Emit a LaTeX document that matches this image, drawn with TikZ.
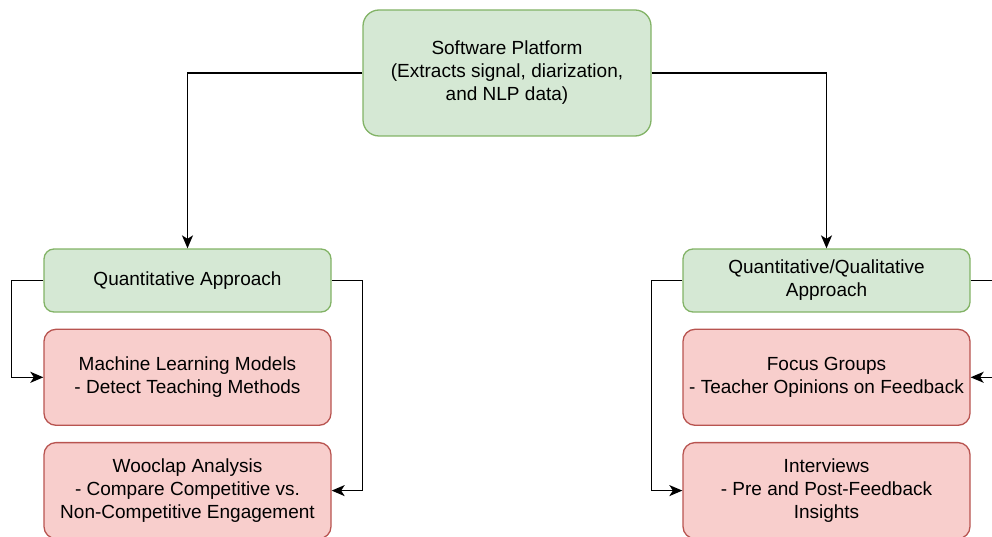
\documentclass[tikz,border=0pt]{standalone}
\usepackage{fontspec}
\setmainfont{Liberation Sans}
\usetikzlibrary{arrows.meta, positioning}

\definecolor{greenfill}{HTML}{D5E8D4}
\definecolor{greenline}{HTML}{82B366}
\definecolor{redfill}{HTML}{F8CECC}
\definecolor{redline}{HTML}{B85450}

\begin{document}
\begin{tikzpicture}[
    x=1pt, y=-1pt,
    font=\fontsize{19}{23}\selectfont,
    greenbox/.style={draw=greenline, fill=greenfill, line width=1.3pt, rounded corners=10pt, align=center, minimum width=287pt, minimum height=63pt, inner sep=0pt},
    redbox/.style={draw=redline, fill=redfill, line width=1.3pt, rounded corners=12pt, align=center, minimum width=287pt, minimum height=96pt, inner sep=0pt},
    arrow/.style={-{Stealth[length=13pt, width=11pt, inset=3.5pt]}, line width=1.5pt}
]
\useasboundingbox (0,0) rectangle (992,537);

\node[greenbox, minimum width=288pt, minimum height=126pt, rounded corners=16pt] (platform) at (507,73) {Software Platform\\(Extracts signal, diarization,\\and NLP data)};

\node[greenbox] (quant) at (187.5,280.5) {Quantitative Approach};
\node[redbox, below=16pt of quant] (ml) {Machine Learning Models\\- Detect Teaching Methods};
\node[redbox, below=16pt of ml] (wooclap) {Wooclap Analysis\\- Compare Competitive vs.\\Non-Competitive Engagement};

\node[greenbox] (qual) at (826.5,280.5) {Quantitative/Qualitative\\Approach};
\node[redbox, below=16pt of qual] (focus) {Focus Groups\\- Teacher Opinions on Feedback};
\node[redbox, below=16pt of focus] (interviews) {Interviews\\- Pre and Post-Feedback\\Insights};

\draw[arrow] (platform.west) -| (quant.north);
\draw[arrow] (platform.east) -| (qual.north);
\draw[arrow] (quant.west) -- ++(-32,0) |- (ml.west);
\draw[arrow] (quant.east) -- ++(31,0) |- (wooclap.east);
\draw[arrow] (qual.west) -- ++(-31,0) |- (interviews.west);
\draw[arrow] (qual.east) -- ++(32,0) |- (focus.east);
\end{tikzpicture}
\end{document}
